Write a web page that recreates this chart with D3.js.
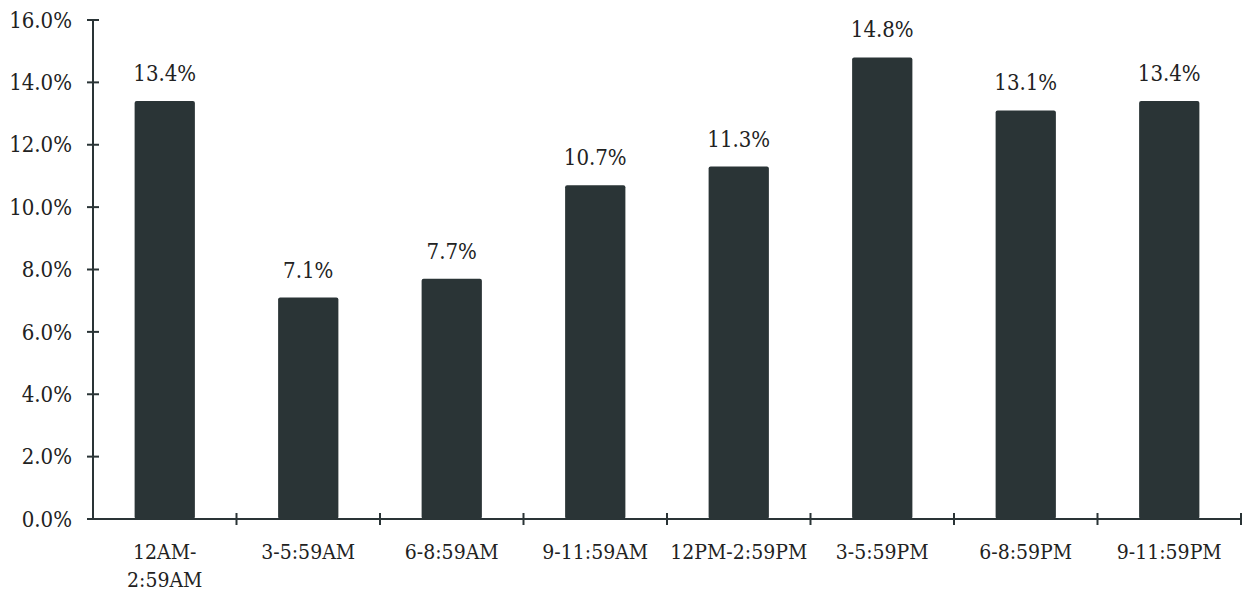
<!DOCTYPE html>
<html>
<head>
<meta charset="utf-8">
<script src="https://cdn.jsdelivr.net/npm/d3@7"></script>
<style>
  body { margin: 0; background: #fff; }
  text { font-family: "DejaVu Serif Condensed", "DejaVu Serif", serif; font-stretch: condensed; fill: #222; }
</style>
</head>
<body>
<div id="chart"></div>
<script>
const categories = ['12AM-\n2:59AM', '3-5:59AM', '6-8:59AM', '9-11:59AM', '12PM-2:59PM', '3-5:59PM', '6-8:59PM', '9-11:59PM'];
const values = [13.4, 7.1, 7.7, 10.7, 11.3, 14.8, 13.1, 13.4];
const yTicks = [0, 2, 4, 6, 8, 10, 12, 14, 16];

const width = 1254, height = 595;
const margin = {top: 20, right: 13, bottom: 76, left: 93};
const cw = width - margin.left - margin.right;
const ch = height - margin.top - margin.bottom;
const barColor = '#2a3436';
const axisColor = '#2a3436';

const svg = d3.select('#chart').append('svg').attr('width', width).attr('height', height);
const g = svg.append('g').attr('transform', `translate(${margin.left}, ${margin.top})`);

const xScale = d3.scaleBand().domain(categories).range([0, cw]).paddingInner(0.58).paddingOuter(0.29);
const yScale = d3.scaleLinear().domain([0, 16]).range([ch, 0]);

// y axis
const yAxis = g.append('g').attr('class', 'y-axis');
yAxis.append('line')
  .attr('x1', 0).attr('x2', 0).attr('y1', 0).attr('y2', ch)
  .attr('stroke', axisColor).attr('stroke-width', 2);
yAxis.selectAll('line.tick')
  .data(yTicks)
  .join('line')
  .attr('class', 'tick')
  .attr('x1', -6).attr('x2', 6)
  .attr('y1', d => yScale(d)).attr('y2', d => yScale(d))
  .attr('stroke', axisColor).attr('stroke-width', 2);
yAxis.selectAll('text')
  .data(yTicks)
  .join('text')
  .attr('x', -21)
  .attr('y', d => yScale(d))
  .attr('dy', '0.35em')
  .attr('text-anchor', 'end')
  .attr('font-size', 22)
  .text(d => `${d.toFixed(1)}%`);

// x axis
const xAxis = g.append('g').attr('class', 'x-axis').attr('transform', `translate(0, ${ch})`);
xAxis.append('line')
  .attr('x1', 0).attr('x2', cw)
  .attr('stroke', axisColor).attr('stroke-width', 2);
const bandStep = xScale.step();
// tick marks sit on the band boundaries (right edge of each category)
xAxis.selectAll('line.tick')
  .data(categories)
  .join('line')
  .attr('class', 'tick')
  .attr('x1', d => xScale(d) - xScale.paddingOuter() * bandStep + bandStep)
  .attr('x2', d => xScale(d) - xScale.paddingOuter() * bandStep + bandStep)
  .attr('y1', -6).attr('y2', 6)
  .attr('stroke', axisColor).attr('stroke-width', 2);

const labels = xAxis.selectAll('text.cat')
  .data(categories)
  .join('text')
  .attr('class', 'cat')
  .attr('text-anchor', 'middle')
  .attr('font-size', 21)
  .attr('y', 40);
labels.selectAll('tspan')
  .data(d => d.split('\n').map(s => ({s, c: d})))
  .join('tspan')
  .attr('x', d => xScale(d.c) + xScale.bandwidth() / 2)
  .attr('dy', (d, i) => i === 0 ? 0 : 28)
  .text(d => d.s);

// bars
g.selectAll('rect')
  .data(values)
  .join('rect')
  .attr('x', (d, i) => xScale(categories[i]))
  .attr('y', d => yScale(d))
  .attr('width', xScale.bandwidth())
  .attr('height', d => ch - yScale(d))
  .attr('rx', 2)
  .attr('fill', barColor);

// value labels
g.selectAll('text.val')
  .data(values)
  .join('text')
  .attr('class', 'val')
  .attr('x', (d, i) => xScale(categories[i]) + xScale.bandwidth() / 2)
  .attr('y', d => yScale(d) - 20)
  .attr('text-anchor', 'middle')
  .attr('font-size', 22)
  .text(d => `${d.toFixed(1)}%`);
</script>
</body>
</html>
